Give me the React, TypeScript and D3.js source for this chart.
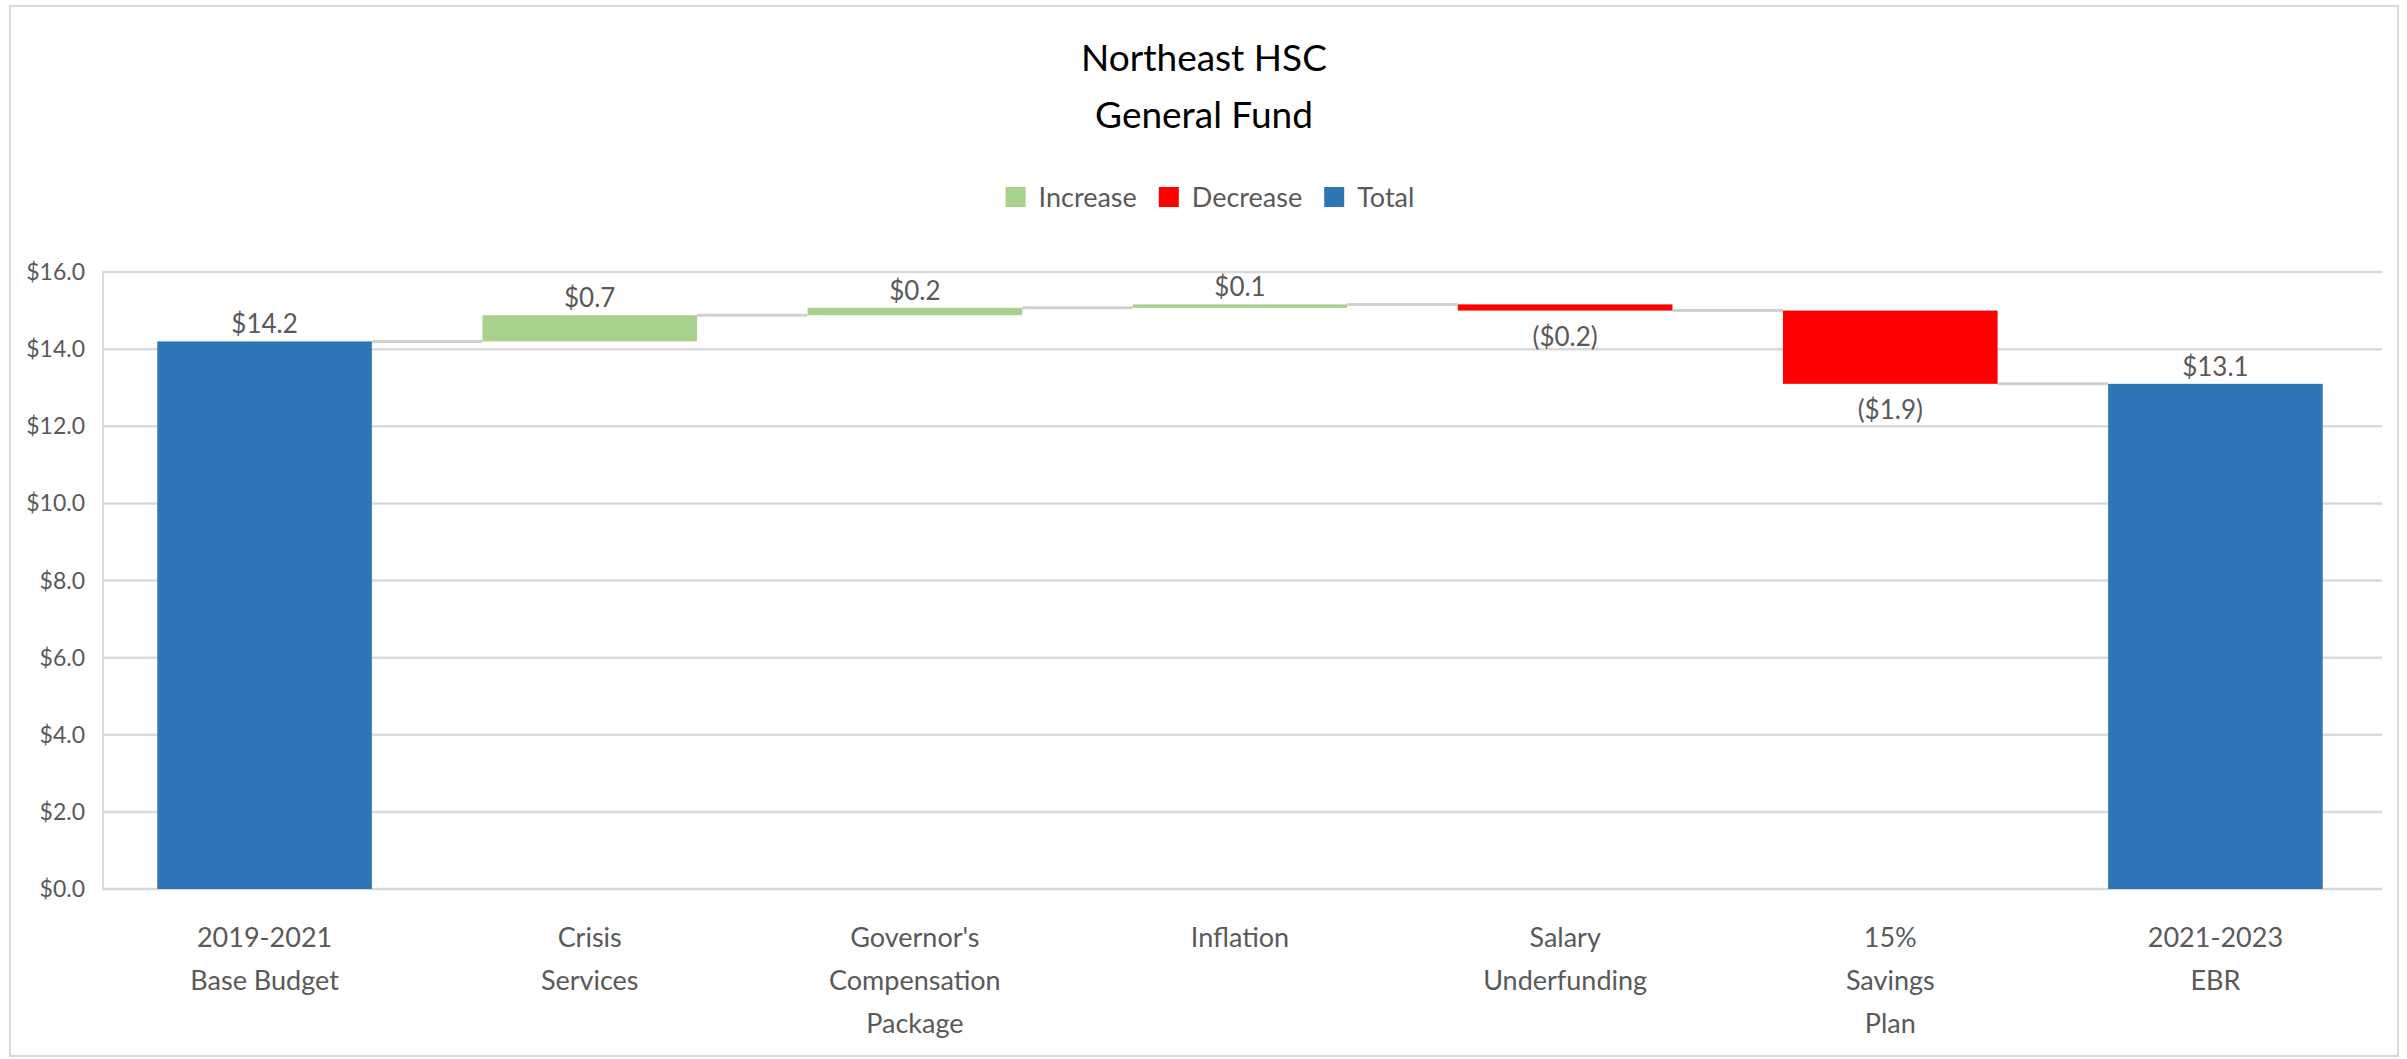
import React from "react";
import * as d3 from "d3";

const categories: string[][] = [
  ["2019-2021", "Base Budget"],
  ["Crisis", "Services"],
  ["Governor's", "Compensation", "Package"],
  ["Inflation"],
  ["Salary", "Underfunding"],
  ["15%", "Savings", "Plan"],
  ["2021-2023", "EBR"],
];
const values: number[] = [14.2, 0.68, 0.19, 0.09, -0.16, -1.9, 13.1];
const kinds: string[] = ["total", "inc", "inc", "inc", "dec", "dec", "total"];
const yTicks: number[] = [0, 2, 4, 6, 8, 10, 12, 14, 16];
const legendItems: string[] = ["Increase", "Decrease", "Total"];
const legendKinds: string[] = ["inc", "dec", "total"];
const titleLines: string[] = ["Northeast HSC", "General Fund"];

const W = 2407;
const H = 1059;
const FONT = "Lato, 'Open Sans', sans-serif";
const COLORS: Record<string, string> = { inc: "#A9D18E", dec: "#FF0000", total: "#2E75B6" };
const GRID = "#D9D9D9";
const TXT = "#595959";

const fmt = (v: number) => (v < 0 ? `($${Math.abs(v).toFixed(1)})` : `$${v.toFixed(1)}`);

function measure(text: string, font: string): number {
  if (typeof document === "undefined") return text.length * 12;
  const c = document.createElement("canvas");
  const ctx = c.getContext("2d");
  if (!ctx) return text.length * 12;
  ctx.font = font;
  return ctx.measureText(text).width;
}

export default function App() {
  const x = d3
    .scaleBand<number>()
    .domain(values.map((_, i) => i))
    .range([102, 2378])
    .paddingInner(0.34)
    .paddingOuter(0.17);
  const y = d3.scaleLinear().domain([0, 16]).range([889, 272]);

  // waterfall geometry
  let run = 0;
  const bars = values.map((v, i) => {
    let lo: number, hi: number, end: number;
    if (kinds[i] === "total") {
      lo = 0;
      hi = v;
      end = v;
    } else {
      const start = run;
      end = run + v;
      lo = Math.min(start, end);
      hi = Math.max(start, end);
    }
    run = end;
    return { i, v, lo, hi, end, kind: kinds[i] };
  });

  const bw = x.bandwidth();

  // legend layout
  const legFont = `27px ${FONT}`;
  const sw = 20;
  const swGap = 13;
  const itemGap = 22;
  const widths = legendItems.map((t) => measure(t, legFont));
  const total = widths.reduce((a, b) => a + b, 0) + legendItems.length * (sw + swGap) + (legendItems.length - 1) * itemGap;
  let lx = 1210 - total / 2;
  const legendPos = widths.map((w) => {
    const p = lx;
    lx += sw + swGap + w + itemGap;
    return p;
  });

  return (
    <svg
      width={W}
      height={H}
      style={{ position: "absolute", left: 0, top: 0, background: "#fff" }}
      fontFamily={FONT}
    >
      <rect x={0} y={0} width={W} height={H} fill="#fff" />
      <rect x={10} y={6} width={2388} height={1050} fill="#fff" stroke={GRID} strokeWidth={2} />

      {/* title */}
      {titleLines.map((t, i) => (
        <text key={t} x={1204} y={71 + i * 57} textAnchor="middle" fontSize={37} fill="#000">
          {t}
        </text>
      ))}

      {/* legend */}
      {legendItems.map((t, i) => (
        <g key={t}>
          <rect x={legendPos[i]} y={187} width={sw} height={sw} fill={COLORS[legendKinds[i]]} />
          <text x={legendPos[i] + sw + swGap} y={207} fontSize={27} fill={TXT}>
            {t}
          </text>
        </g>
      ))}

      {/* gridlines */}
      {yTicks.map((t) => (
        <line key={t} x1={102} x2={2382} y1={y(t)} y2={y(t)} stroke={GRID} strokeWidth={2.5} />
      ))}
      <line x1={103} x2={103} y1={y(16)} y2={y(0)} stroke={GRID} strokeWidth={2} />

      {/* y tick labels */}
      {yTicks.map((t) => (
        <text key={t} x={85} y={y(t) + 8} textAnchor="end" fontSize={23} fill={TXT}>
          {`$${t.toFixed(1)}`}
        </text>
      ))}

      {/* connectors */}
      {bars.slice(0, -1).map((b, i) => (
        <line
          key={`c${i}`}
          x1={(x(i) as number) + bw}
          x2={x(i + 1) as number}
          y1={y(b.end)}
          y2={y(b.end)}
          stroke="#D0D0D0"
          strokeWidth={3}
        />
      ))}

      {/* bars */}
      {bars.map((b) => (
        <rect
          key={b.i}
          x={x(b.i)}
          y={y(b.hi)}
          width={bw}
          height={Math.max(1.5, y(b.lo) - y(b.hi))}
          fill={COLORS[b.kind]}
        />
      ))}

      {/* data labels */}
      {bars.map((b) => {
        const cx = (x(b.i) as number) + bw / 2;
        const below = b.kind === "dec";
        return (
          <text
            key={`l${b.i}`}
            x={cx}
            y={below ? y(b.lo) + 35 : y(b.hi) - 8}
            textAnchor="middle"
            fontSize={26}
            fill={TXT}
          >
            {fmt(b.v)}
          </text>
        );
      })}

      {/* category labels */}
      {categories.map((lines, i) => (
        <text key={`x${i}`} textAnchor="middle" fontSize={27} fill={TXT}>
          {lines.map((ln, j) => (
            <tspan key={j} x={(x(i) as number) + bw / 2} y={947 + j * 43}>
              {ln}
            </tspan>
          ))}
        </text>
      ))}
    </svg>
  );
}
